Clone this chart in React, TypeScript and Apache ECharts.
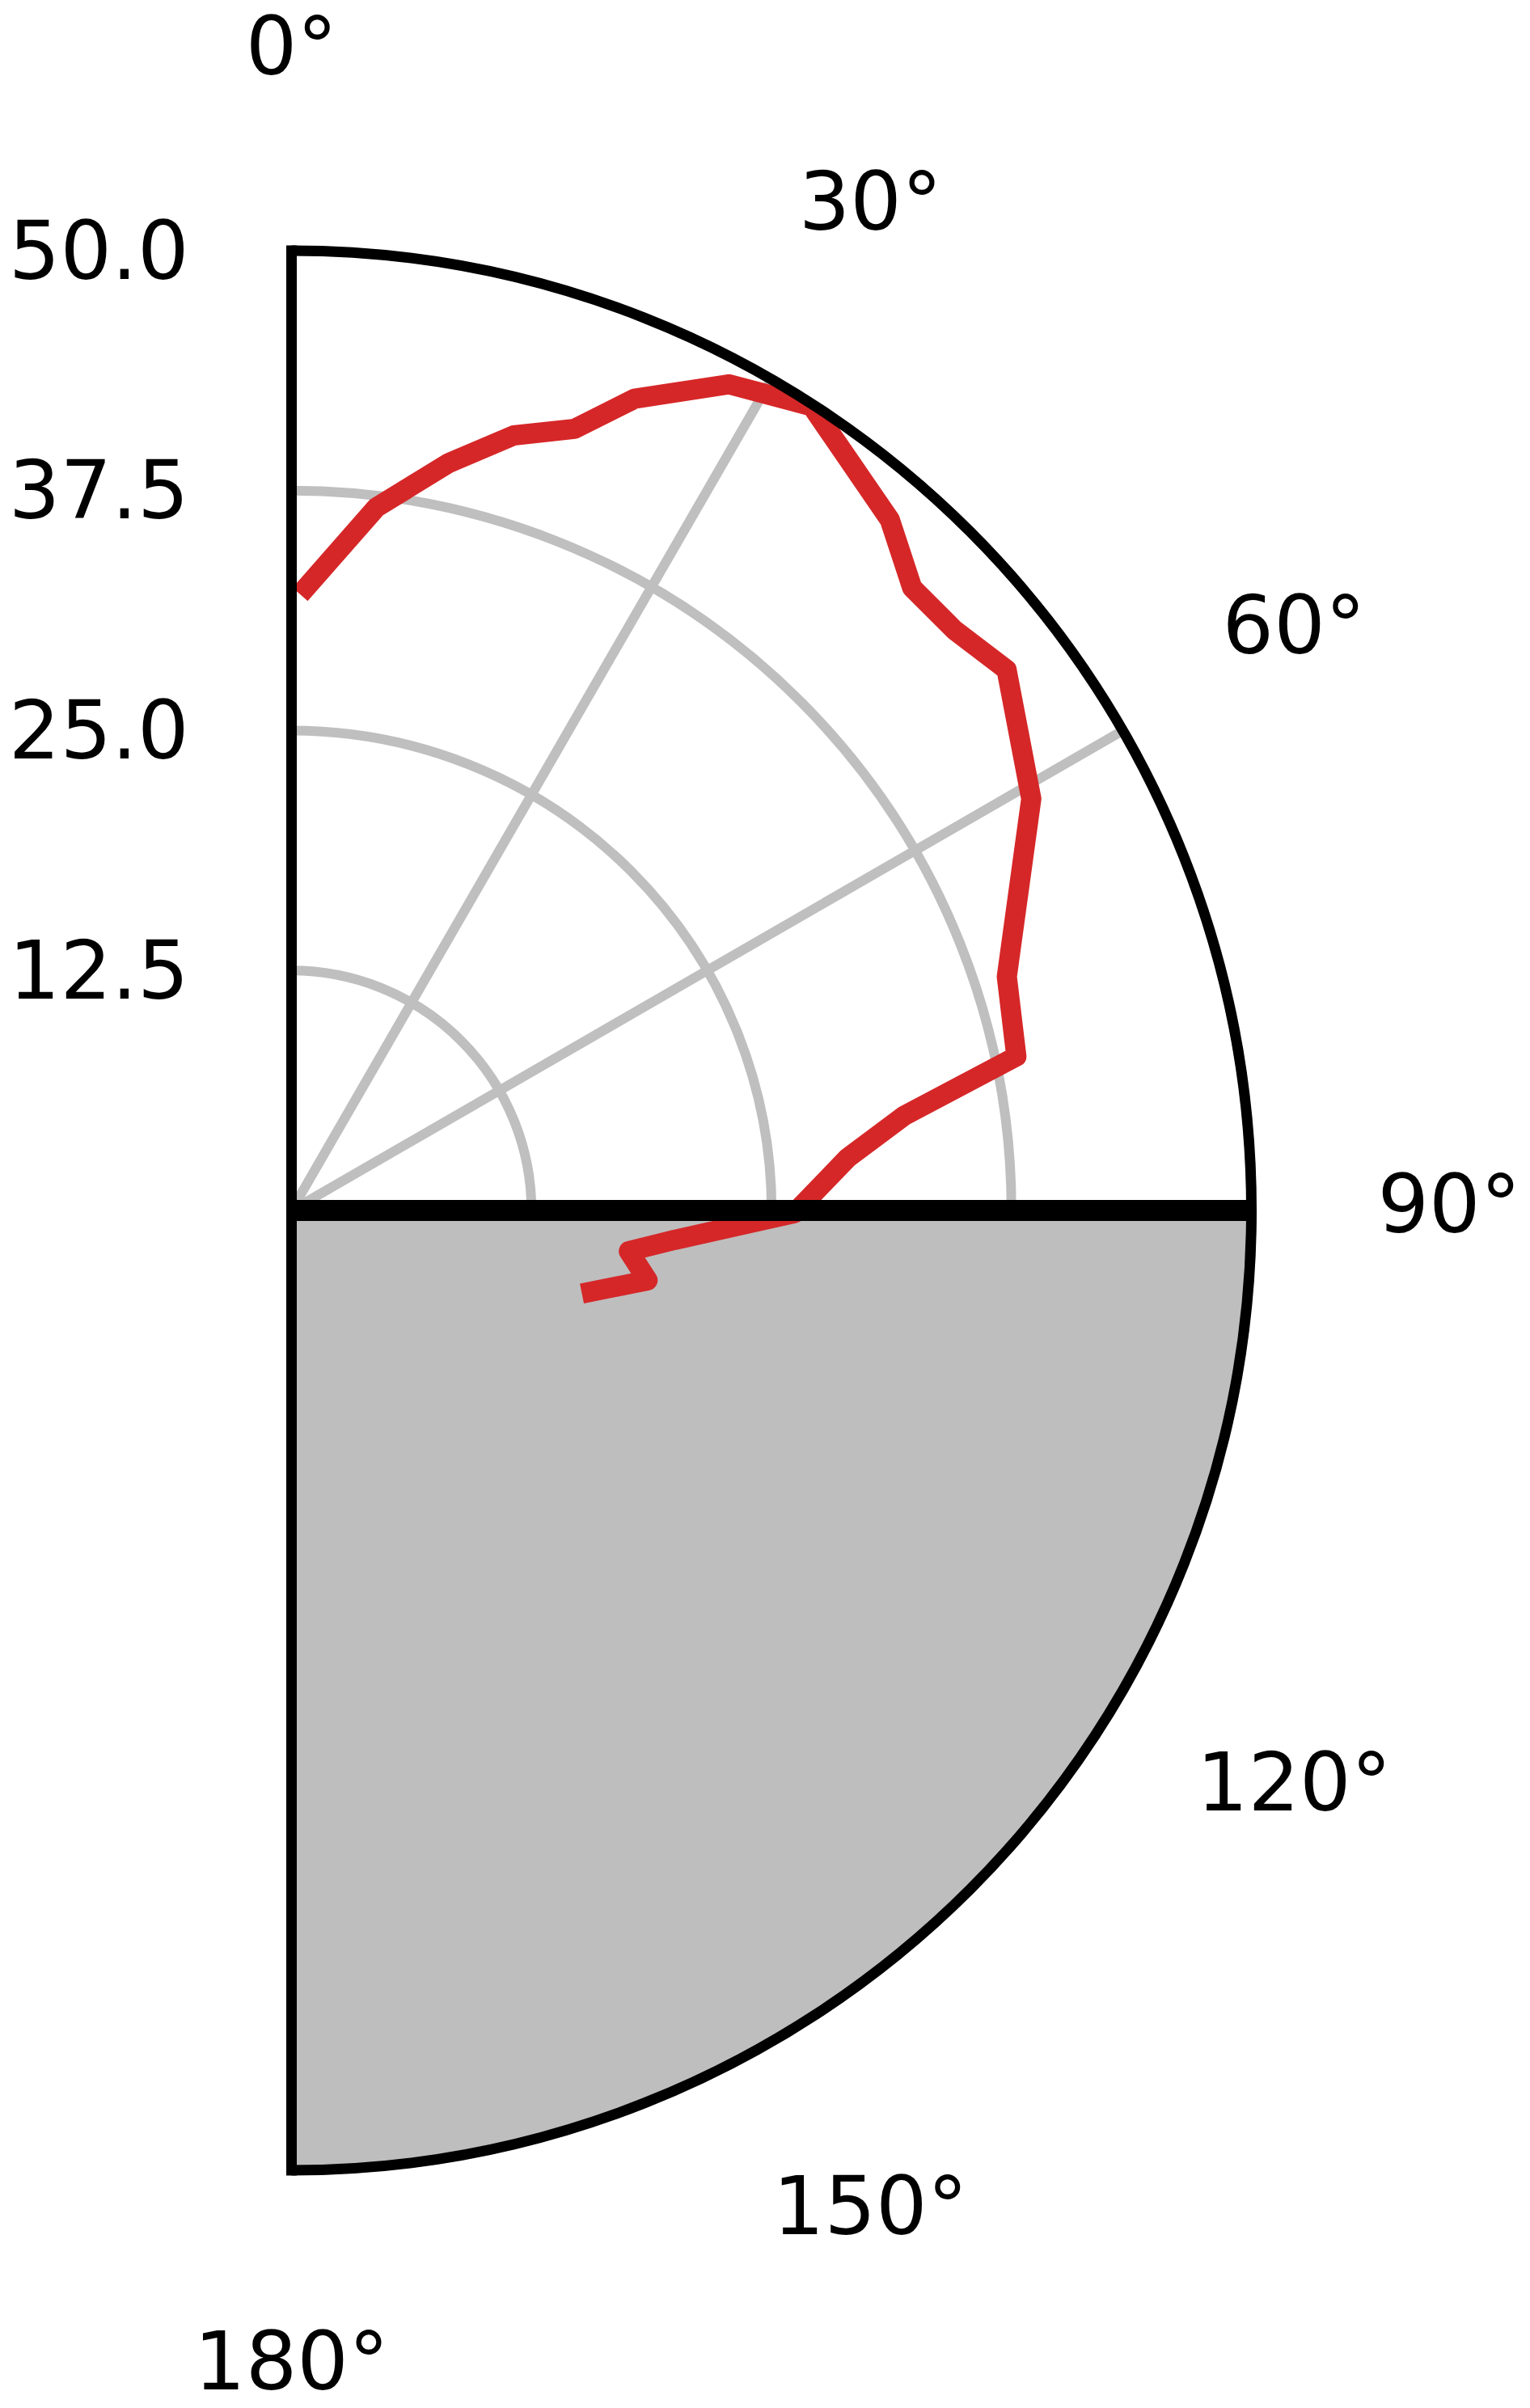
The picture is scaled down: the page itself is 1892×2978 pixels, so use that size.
import React, { useEffect, useRef } from "react";
import * as echarts from "echarts";

// Angular ticks (degrees, clockwise from top)
const angleTicks = [0, 30, 60, 90, 120, 150, 180];
const angleTickLabels = ["0°", "30°", "60°", "90°", "120°", "150°", "180°"];

// Radial ticks
const radiusTicks = [12.5, 25, 37.5, 50];
const radiusTickLabels = ["12.5", "25.0", "37.5", "50.0"];

// Red trace: angle (deg) and radius
const lineAngles = [1.4, 6.9, 11.9, 16.0, 19.9, 22.9, 27.9, 32.9, 40.9, 44.9, 48.8, 52.9, 60.9, 71.9, 78.0, 81.2, 84.6, 90.3, 94.4, 96.9, 101.1, 105.1];
const lineRadii = [32.5, 36.9, 39.8, 42.0, 43.3, 45.9, 48.7, 49.9, 47.6, 45.8, 45.9, 46.7, 44.1, 39.2, 38.6, 32.3, 29.1, 26.2, 20.0, 17.7, 18.9, 16.2];

// Shaded half (degrees)
const shadedRange = [90, 180];
const radiusMax = 50;
const labelRadius = 60.3;

const FONT = "DejaVu Sans";

export default function App() {
  const ref = useRef<HTMLDivElement>(null);

  useEffect(() => {
    document.body.style.margin = "0";
    if (!ref.current) return;
    const chart = echarts.init(ref.current, undefined, { renderer: "svg" });

    const lineData = lineAngles.map((a, i) => [lineRadii[i], a]);
    const labelData = angleTicks.map((a, i) => ({ value: [labelRadius, a], name: angleTickLabels[i] }));

    chart.setOption({
      animation: false,
      backgroundColor: "#ffffff",
      polar: { center: [360.5, 1497], radius: 1187 },
      angleAxis: {
        type: "value",
        min: 0,
        max: 180,
        interval: 30,
        startAngle: 90,
        endAngle: -90,
        clockwise: true,
        axisLine: { show: false },
        axisTick: { show: false },
        axisLabel: { show: false },
        splitLine: { show: true, lineStyle: { color: "#bfbfbf", width: 12 } },
        z: 0,
      },
      radiusAxis: {
        type: "value",
        min: 0,
        max: radiusMax,
        interval: 12.5,
        axisLine: { show: false },
        axisTick: { show: false },
        splitLine: { show: true, lineStyle: { color: "#bfbfbf", width: 12 } },
        axisLabel: {
          show: true,
          margin: 127,
          fontFamily: FONT,
          fontSize: 100,
          color: "#000000",
          padding: [0, 0, 16, 0],
          formatter: (v: number) => {
            const i = radiusTicks.findIndex((t) => Math.abs(t - v) < 1e-6);
            return i >= 0 ? radiusTickLabels[i] : "";
          },
        },
        z: 0,
      },
      series: [
        {
          type: "custom",
          coordinateSystem: "polar",
          z: 1,
          silent: true,
          data: [[radiusMax, shadedRange[0]]],
          renderItem: (params: any, api: any) => {
            const c = api.coord([0, 0]);
            const p1 = api.coord([radiusMax, shadedRange[0]]);
            const p2 = api.coord([radiusMax, shadedRange[1]]);
            const r = Math.hypot(p1[0] - c[0], p1[1] - c[1]);
            const a1 = Math.atan2(p1[1] - c[1], p1[0] - c[0]);
            const a2 = Math.atan2(p2[1] - c[1], p2[0] - c[0]);
            return {
              type: "sector",
              shape: { cx: c[0], cy: c[1], r0: 0, r, startAngle: a1, endAngle: a2, clockwise: true },
              style: { fill: "#bebebe" },
            };
          },
        },
        {
          type: "line",
          coordinateSystem: "polar",
          z: 2,
          data: lineData,
          showSymbol: false,
          symbol: "none",
          lineStyle: { color: "#d62728", width: 25, cap: "square", join: "round" },
          silent: true,
        },
        {
          type: "custom",
          coordinateSystem: "polar",
          z: 5,
          silent: true,
          data: [[radiusMax, 0]],
          renderItem: (params: any, api: any) => {
            const c = api.coord([0, 0]);
            const pTop = api.coord([radiusMax, angleTicks[0]]);
            const pBottom = api.coord([radiusMax, angleTicks[angleTicks.length - 1]]);
            const pMid = api.coord([radiusMax, shadedRange[0]]);
            const r = Math.hypot(pTop[0] - c[0], pTop[1] - c[1]);
            const aTop = Math.atan2(pTop[1] - c[1], pTop[0] - c[0]);
            const aBottom = Math.atan2(pBottom[1] - c[1], pBottom[0] - c[0]);
            return {
              type: "group",
              children: [
                {
                  type: "arc",
                  shape: { cx: c[0], cy: c[1], r, startAngle: aTop, endAngle: aBottom, clockwise: true },
                  style: { stroke: "#000000", lineWidth: 13, fill: "none" },
                },
                {
                  type: "line",
                  shape: { x1: pTop[0], y1: pTop[1], x2: pBottom[0], y2: pBottom[1] },
                  style: { stroke: "#000000", lineWidth: 13, lineCap: "square" },
                },
                {
                  type: "line",
                  shape: { x1: c[0], y1: c[1], x2: pMid[0], y2: pMid[1] },
                  style: { stroke: "#000000", lineWidth: 26 },
                },
              ],
            };
          },
        },
        {
          type: "scatter",
          coordinateSystem: "polar",
          z: 6,
          silent: true,
          clip: false,
          symbol: "circle",
          symbolSize: 0,
          itemStyle: { color: "#000000", opacity: 1 },
          data: labelData,
          label: {
            show: true,
            position: "inside",
            offset: [0, -8],
            formatter: (p: any) => p.name,
            fontFamily: FONT,
            fontSize: 100,
            color: "#000000",
            opacity: 1,
            textBorderWidth: 0,
          },
        },
      ],
    });

    return () => {
      chart.dispose();
    };
  }, []);

  return <div ref={ref} style={{ width: 1892, height: 2978 }} />;
}
